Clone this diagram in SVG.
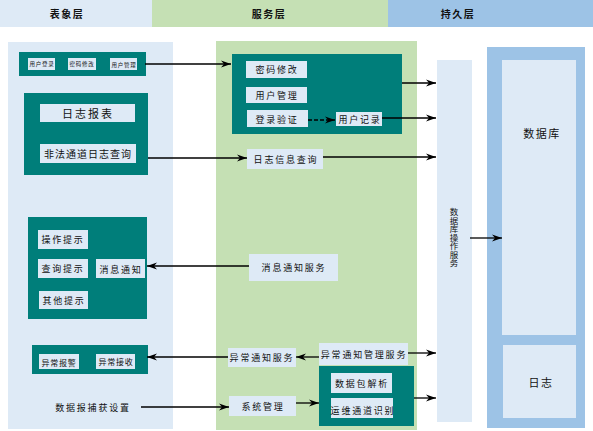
<svg xmlns="http://www.w3.org/2000/svg" width="593" height="431" viewBox="0 0 593 431">
<style>
text{font-family:"Noto Sans CJK SC","Liberation Sans",sans-serif;fill:#111;dominant-baseline:central;text-anchor:middle;font-size:9px;letter-spacing:1.8px}
.lt{fill:#deeaf6}
.teal{fill:#007e7a}
.gr{fill:#c5e0b4}
.bl{fill:#9dc3e6}
.hd{font-size:10px;letter-spacing:1.5px;font-weight:bold}
.sm{font-size:5.5px;letter-spacing:0.7px}
.s8{font-size:8px;letter-spacing:0.8px}
.big{font-size:11px;letter-spacing:2px}
.db{font-size:11px;letter-spacing:1.5px}
.vt{letter-spacing:0px;font-size:8.5px}
.c line{stroke:#000;stroke-width:1.3;marker-end:url(#ah)}
</style>
<defs>
<marker id="ah" markerUnits="userSpaceOnUse" markerWidth="12" markerHeight="8" refX="10" refY="4" orient="auto">
<path d="M0,0.5 L10,4 L0,7.5 L3,4 z" fill="#000"/>
</marker>
</defs>
<g id="header">
<rect x="0" y="0" width="152" height="27" class="lt"/>
<rect x="152" y="0" width="236" height="27" class="gr"/>
<rect x="388" y="0" width="205" height="27" class="bl"/>
<text x="67" y="13" class="hd">表象层</text>
<text x="269" y="13" class="hd">服务层</text>
<text x="458" y="13" class="hd">持久层</text>
</g>
<g id="panels">
<rect x="8" y="42" width="165" height="387" class="lt"/>
<rect x="216" y="41" width="201" height="389" class="gr"/>
<rect x="487" y="47" width="98" height="381" class="bl"/>
</g>
<g id="user-bar">
<rect x="19" y="52" width="127" height="24" class="teal"/>
<rect x="28" y="58" width="27" height="12" class="lt"/><text x="42" y="64" class="sm">用户登录</text>
<rect x="68" y="58" width="28" height="12" class="lt"/><text x="82" y="64" class="sm">密码修改</text>
<rect x="110" y="58" width="27" height="12" class="lt"/><text x="124" y="64.5" class="sm">用户管理</text>
</g>
<g id="log-panel">
<rect x="24" y="93" width="124" height="82" class="teal"/>
<rect x="40" y="104" width="95" height="18" class="lt"/><text x="88" y="113" class="big">日志报表</text>
<rect x="40" y="144" width="96" height="19" class="lt"/><text x="88" y="153.5" style="font-size:10px;letter-spacing:1px">非法通道日志查询</text>
</g>
<g id="tips-panel">
<rect x="28" y="217" width="119" height="102" class="teal"/>
<rect x="38" y="230" width="50" height="19" class="lt"/><text x="63" y="239.5">操作提示</text>
<rect x="38" y="259" width="50" height="19" class="lt"/><text x="63" y="268.5">查询提示</text>
<rect x="96" y="259" width="49" height="19" class="lt"/><text x="121" y="269">消息通知</text>
<rect x="39" y="291" width="49" height="18" class="lt"/><text x="64" y="300">其他提示</text>
</g>
<g id="alarm-panel">
<rect x="32" y="345" width="116" height="29" class="teal"/>
<rect x="39" y="354" width="40" height="15" class="lt"/><text x="59" y="362" class="s8">异常报警</text>
<rect x="96" y="354" width="39" height="15" class="lt"/><text x="116" y="361" class="s8">异常接收</text>
</g>
<g id="capture">
<text x="93" y="407">数据报捕获设置</text>
</g>
<g id="account-service">
<rect x="232" y="54" width="170" height="80" class="teal"/>
<rect x="246" y="61" width="61" height="17" class="lt"/><text x="277" y="69.5">密码修改</text>
<rect x="246" y="87" width="61" height="16" class="lt"/><text x="277" y="95">用户管理</text>
<rect x="247" y="110" width="61" height="17" class="lt"/><text x="277" y="119">登录验证</text>
<rect x="336" y="112" width="46" height="14" class="lt"/><text x="360" y="119">用户记录</text>
</g>
<g id="log-query">
<rect x="247" y="149" width="76" height="20" class="lt"/><text x="286" y="159">日志信息查询</text>
</g>
<g id="msg-service">
<rect x="249" y="254" width="89" height="27" class="lt"/><text x="294" y="267.5">消息通知服务</text>
</g>
<g id="alarm-service">
<rect x="228" y="348" width="68" height="19" class="lt"/><text x="262" y="357.5">异常通知服务</text>
</g>
<g id="alarm-mgmt">
<rect x="319" y="343" width="89" height="22" class="lt"/><text x="364" y="354">异常通知管理服务</text>
</g>
<g id="sys-mgmt">
<rect x="229" y="396" width="67" height="20" class="lt"/><text x="263" y="406">系统管理</text>
</g>
<g id="channel-panel">
<rect x="319" y="366" width="95" height="60" class="teal"/>
<rect x="331" y="373" width="61" height="20" class="lt"/><text x="362" y="383.5">数据包解析</text>
<rect x="331" y="398" width="62" height="20" class="lt"/><text x="363" y="410">运维通道识别</text>
</g>
<g id="db-service">
<rect x="437" y="60" width="35" height="362" class="lt"/>
<text class="vt"><tspan x="454" y="211">数</tspan><tspan x="454" y="219.5">据</tspan><tspan x="454" y="228">库</tspan><tspan x="454" y="236.5">操</tspan><tspan x="454" y="245">作</tspan><tspan x="454" y="253.5">服</tspan><tspan x="454" y="262">务</tspan></text>
</g>
<g id="database">
<rect x="502" y="60" width="74" height="275" class="lt"/>
<text x="542" y="133" class="db">数据库</text>
</g>
<g id="log-store">
<rect x="503" y="345" width="73" height="73" class="lt"/>
<text x="541" y="382" class="db">日志</text>
</g>
<g id="connectors" class="c">
<line x1="145" y1="64" x2="231" y2="64"/>
<line x1="148" y1="158" x2="247" y2="158"/>
<line x1="308" y1="120" x2="335" y2="120" stroke-dasharray="4,2"/>
<line x1="402" y1="83" x2="436" y2="83"/>
<line x1="382" y1="118" x2="436" y2="118"/>
<line x1="323" y1="157" x2="436" y2="157"/>
<line x1="249" y1="266" x2="147" y2="266"/>
<line x1="228" y1="357" x2="147" y2="357"/>
<line x1="319" y1="357" x2="296" y2="357"/>
<line x1="408" y1="353" x2="436" y2="353"/>
<line x1="414" y1="398" x2="436" y2="398"/>
<line x1="296" y1="403" x2="319" y2="403"/>
<line x1="141" y1="407" x2="229" y2="407"/>
<line x1="470" y1="238" x2="502" y2="238"/>
</g>
</svg>
